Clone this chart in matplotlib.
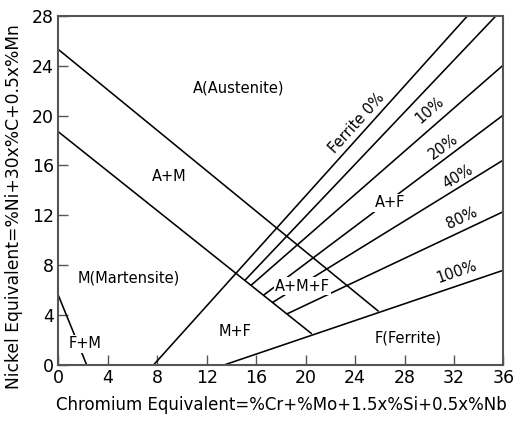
import matplotlib
matplotlib.use('Agg')
import matplotlib.pyplot as plt

# Schaeffler diagram: phase boundaries as (Cr_eq, Ni_eq) end points
austenite_edge = [(0, 25.3), (25.9, 4.3)]      # A / A+M
martensite_edge = [(0, 18.7), (20.5, 2.5)]     # A+M / M
fm_edge = [(0, 5.6), (2.3, 0)]                 # M / F+M
ferrite_lines = {
    '0%':   [(7.7, 0), (33.1, 28)],
    '5%':   [(15.1, 6.8), (35.4, 28)],
    '10%':  [(15.6, 6.4), (36, 24.06)],
    '20%':  [(16.6, 5.6), (36, 20.05)],
    '40%':  [(17.3, 5.0), (36, 16.44)],
    '80%':  [(18.5, 4.1), (36, 12.3)],
    '100%': [(13.4, 0), (36, 7.6)],
}

# region names and where they sit
regions = ['A(Austenite)', 'A+M', 'M(Martensite)', 'M+F', 'F+M', 'A+M+F', 'A+F', 'F(Ferrite)']
region_x = [14.55, 8.95, 5.7, 14.3, 2.15, 19.75, 26.8, 28.3]
region_y = [22.2, 15.1, 7.0, 2.7, 1.7, 6.3, 13.0, 2.15]
# labels that sit on top of a line and blank it out
masked = ['A+M+F', 'A+F', 'F+M']

# percent labels along the ferrite lines
pct_text = ['Ferrite 0%', '10%', '20%', '40%', '80%', '100%']
pct_x = [24.1, 30.05, 31.1, 32.3, 32.6, 32.2]
pct_y = [19.4, 20.45, 17.46, 15.05, 11.76, 7.48]
pct_rot = [48, 41, 36, 31, 25, 19]

plt.rcParams['font.family'] = ['DejaVu Sans']

fig = plt.figure(figsize=(5.18, 4.21), dpi=100)
ax = fig.add_axes([0.1125, 0.133, 0.8595, 0.8297])

def seg(pts):
    (x0, y0), (x1, y1) = pts
    ax.plot([x0, x1], [y0, y1], color='black', lw=1.15, zorder=2, solid_capstyle='butt')

seg(austenite_edge)
seg(martensite_edge)
seg(fm_edge)
for k in ferrite_lines:
    seg(ferrite_lines[k])

for t, x, y in zip(regions, region_x, region_y):
    box = dict(fc='white', ec='none', pad=1.0) if t in masked else None
    ax.text(x, y, t, ha='center', va='center', fontsize=10.5, zorder=3, bbox=box)

for t, x, y, r in zip(pct_text, pct_x, pct_y, pct_rot):
    ax.text(x, y, t, ha='center', va='center', fontsize=10.5, rotation=r,
            rotation_mode='anchor', zorder=3)

ax.set_xlim(0, 36)
ax.set_ylim(0, 28)
ax.set_xticks(range(0, 37, 4))
ax.set_yticks(range(0, 29, 4))
ax.tick_params(direction='in', length=7, width=1, colors='#555555',
               labelcolor='black', labelsize=12.5, top=False, right=False, pad=3)
for s in ax.spines.values():
    s.set_color('#555555')
    s.set_linewidth(1.5)

ax.set_xlabel('Chromium Equivalent=%Cr+%Mo+1.5x%Si+0.5x%Nb', fontsize=12, labelpad=6)
ax.set_ylabel('Nickel Equivalent=%Ni+30x%C+0.5x%Mn', fontsize=12.3)
ax.yaxis.set_label_coords(-0.08, 0.455)

fig.savefig('out.png', dpi=100)
